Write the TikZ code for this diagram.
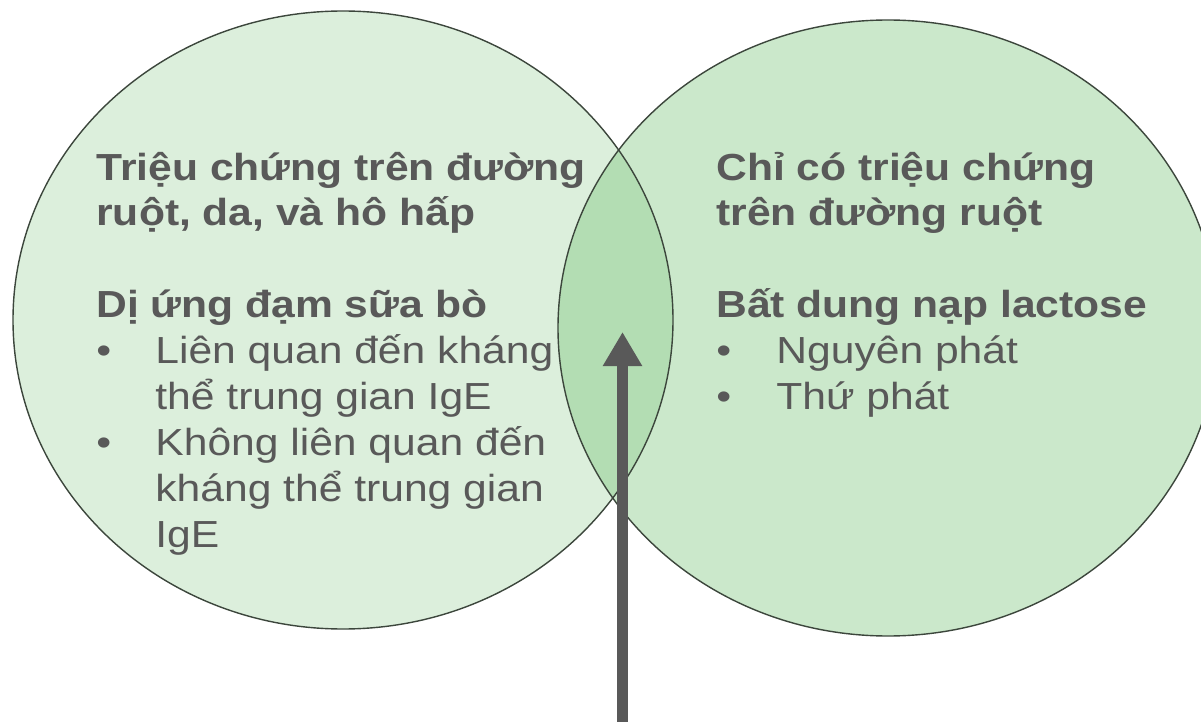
\documentclass[tikz,border=0pt]{standalone}
\usepackage{fontspec}
\newfontfamily\vfont[FakeStretch=1.13]{Liberation Sans}
\usetikzlibrary{arrows.meta}
\definecolor{txt}{HTML}{595959}
\definecolor{lfill}{HTML}{DCEFDC}
\definecolor{rfill}{HTML}{CBE8CB}
\definecolor{ofill}{HTML}{B3DDB3}
\definecolor{edgec}{HTML}{3C463C}
\definecolor{arrowc}{HTML}{595959}
\begin{document}
\begin{tikzpicture}[x=0.5pt,y=-0.5pt,
  txtline/.style={anchor=base west, inner sep=0pt, text=txt, font=\vfont\fontsize{18.85pt}{22.75pt}\selectfont},
  headline/.style={anchor=base west, inner sep=0pt, text=txt, font=\vfont\bfseries\fontsize{18.85pt}{22.75pt}\selectfont},
  outline/.style={draw=edgec, line width=0.7pt},
  bigarrow/.style={draw=arrowc, line width=5.85pt, -{Triangle[length=17pt,width=18.5pt]}}
]
\clip (0,0) rectangle (1201,722);
\fill[white] (0,0) rectangle (1201,722);
% circles
\fill[lfill] (343,320) ellipse [x radius=330, y radius=309];
\fill[rfill] (888,328) ellipse [x radius=330, y radius=308];
\begin{scope}
  \clip (343,320) ellipse [x radius=330, y radius=309];
  \fill[ofill] (888,328) ellipse [x radius=330, y radius=308];
\end{scope}
\draw[outline] (343,320) ellipse [x radius=330, y radius=309];
\draw[outline] (888,328) ellipse [x radius=330, y radius=308];
% left texts
\node[headline] (lh1) at (96,180.5) {Triệu chứng trên đường};
\node[headline] (lh2) at (96,225.5) {ruột, da, và hô hấp};
\node[headline] (lt) at (96,317) {Dị ứng đạm sữa bò};
\node[txtline] (lb1) at (96,363) {•};
\node[txtline] (l11) at (155,363) {Liên quan đến kháng};
\node[txtline] (l12) at (155,409) {thể trung gian IgE};
\node[txtline] (lb2) at (96,455) {•};
\node[txtline] (l21) at (155,455) {Không liên quan đến};
\node[txtline] (l22) at (155,501) {kháng thể trung gian};
\node[txtline] (l23) at (155,547) {IgE};
% right texts
\node[headline] (rh1) at (716,180.5) {Chỉ có triệu chứng};
\node[headline] (rh2) at (716,225.5) {trên đường ruột};
\node[headline] (rt) at (716,317) {Bất dung nạp lactose};
\node[txtline] (rb1) at (716,363) {•};
\node[txtline] (r11) at (776,363) {Nguyên phát};
\node[txtline] (rb2) at (716,409) {•};
\node[txtline] (r21) at (776,409) {Thứ phát};
% arrow
\coordinate (astart) at (622.5,722);
\coordinate (atip) at (622.5,332);
\draw[bigarrow] (astart) -- (atip);
\end{tikzpicture}
\end{document}
